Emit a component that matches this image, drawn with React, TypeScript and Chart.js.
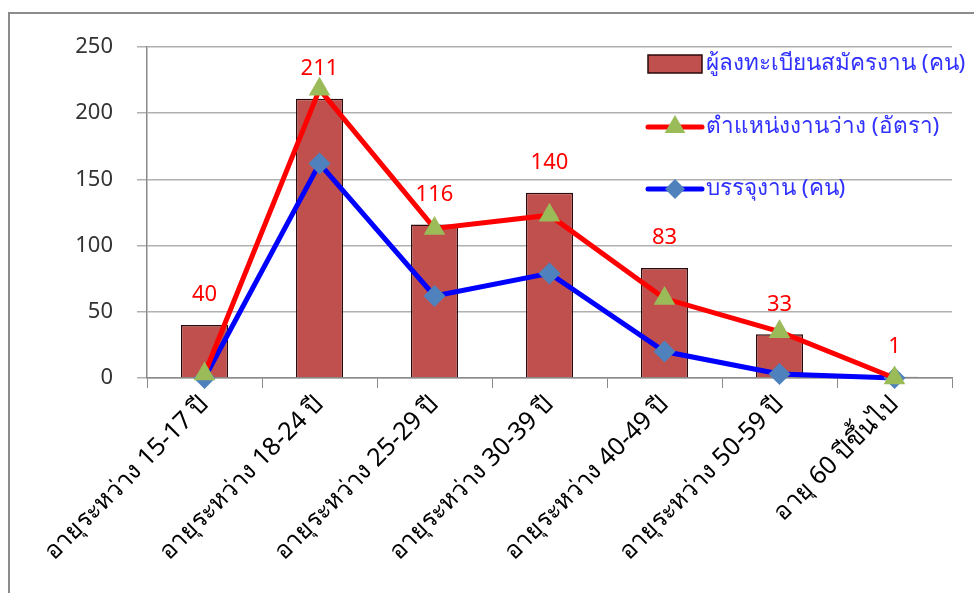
import React, { useEffect, useRef } from "react";
import { Chart, registerables } from "chart.js";

Chart.register(...registerables);

const categories = [
  "อายุระหว่าง 15-17 ปี",
  "อายุระหว่าง 18-24 ปี",
  "อายุระหว่าง 25-29 ปี",
  "อายุระหว่าง 30-39 ปี",
  "อายุระหว่าง 40-49 ปี",
  "อายุระหว่าง 50-59 ปี",
  "อายุ 60 ปีขึ้นไป",
];
const registrants = [40, 211, 116, 140, 83, 33, 1];
const vacancies = [3, 218, 113, 123, 60, 35, 0];
const placements = [0, 162, 62, 79, 20, 3, 0];
const seriesNames = [
  "ผู้ลงทะเบียนสมัครงาน (คน)",
  "ตำแหน่งงานว่าง (อัตรา)",
  "บรรจุงาน (คน)",
];
const yTicks = [0, 50, 100, 150, 200, 250];

const FONT = "'Noto Sans', 'DejaVu Sans', sans-serif";

const labelPlugin = {
  id: "barLabels",
  afterDatasetsDraw(chart: any) {
    const ctx = chart.ctx;
    const meta = chart.getDatasetMeta(0);
    ctx.save();
    ctx.fillStyle = "#ff0000";
    ctx.font = `22px ${FONT}`;
    ctx.textAlign = "center";
    ctx.textBaseline = "middle";
    meta.data.forEach((el: any, i: number) => {
      ctx.fillText(String(registrants[i]), el.x, el.y - 30);
    });
    ctx.restore();
  },
};

const legendPlugin = {
  id: "customLegend",
  afterDraw(chart: any) {
    const ctx = chart.ctx;
    const area = chart.chartArea;
    const x0 = area.right - 304;
    const sw = 54;
    const tops = [area.top + 17, area.top + 80, area.top + 142];
    ctx.save();
    ctx.fillStyle = "#c0504d";
    ctx.strokeStyle = "#2a0a0a";
    ctx.lineWidth = 1.5;
    ctx.fillRect(x0, tops[0] - 9, sw, 18);
    ctx.strokeRect(x0, tops[0] - 9, sw, 18);
    ctx.lineCap = "round";
    ctx.strokeStyle = "#ff0000";
    ctx.lineWidth = 5;
    ctx.beginPath();
    ctx.moveTo(x0, tops[1]);
    ctx.lineTo(x0 + sw, tops[1]);
    ctx.stroke();
    ctx.fillStyle = "#9bbb59";
    const r = 12;
    const cx = x0 + sw / 2;
    ctx.beginPath();
    ctx.moveTo(cx, tops[1] - r);
    ctx.lineTo(cx + r * 0.866, tops[1] + r * 0.5);
    ctx.lineTo(cx - r * 0.866, tops[1] + r * 0.5);
    ctx.closePath();
    ctx.fill();
    ctx.strokeStyle = "#0000ff";
    ctx.beginPath();
    ctx.moveTo(x0, tops[2]);
    ctx.lineTo(x0 + sw, tops[2]);
    ctx.stroke();
    ctx.fillStyle = "#4f81bd";
    const d = 10;
    ctx.beginPath();
    ctx.moveTo(cx, tops[2] - d);
    ctx.lineTo(cx + d, tops[2]);
    ctx.lineTo(cx, tops[2] + d);
    ctx.lineTo(cx - d, tops[2]);
    ctx.closePath();
    ctx.fill();
    ctx.fillStyle = "#3030ff";
    ctx.font = `22.5px ${FONT}`;
    ctx.textAlign = "left";
    ctx.textBaseline = "middle";
    seriesNames.forEach((n, i) => ctx.fillText(n, x0 + sw + 4, tops[i]));
    ctx.restore();
  },
};

export default function App() {
  const ref = useRef<HTMLCanvasElement>(null);
  useEffect(() => {
    if (!ref.current) return;
    const chart = new Chart(ref.current, {
      type: "bar",
      data: {
        labels: categories,
        datasets: [
          {
            type: "bar",
            label: seriesNames[0],
            data: registrants,
            backgroundColor: "#c0504d",
            borderColor: "#2a0a0a",
            borderWidth: 1.5,
            categoryPercentage: 1,
            barPercentage: 0.41,
            order: 3,
          },
          {
            type: "line",
            label: seriesNames[1],
            data: vacancies,
            borderColor: "#ff0000",
            borderWidth: 5,
            pointStyle: "triangle",
            pointRadius: 12.5,
            pointBackgroundColor: "#9bbb59",
            pointBorderColor: "#9bbb59",
            pointBorderWidth: 0,
            tension: 0,
            clip: false,
            order: 1,
          } as any,
          {
            type: "line",
            label: seriesNames[2],
            data: placements,
            borderColor: "#0000ff",
            borderWidth: 5,
            pointStyle: "rectRot",
            pointRadius: 11,
            pointBackgroundColor: "#4f81bd",
            pointBorderColor: "#4f81bd",
            pointBorderWidth: 0,
            tension: 0,
            clip: false,
            order: 2,
          } as any,
        ],
      },
      options: {
        animation: false,
        responsive: false,
        layout: { padding: { left: 0, right: 22, top: 47, bottom: 0 } },
        plugins: {
          legend: { display: false },
          tooltip: { enabled: false },
        },
        scales: {
          x: {
            grid: {
              offset: true,
              drawOnChartArea: false,
              drawTicks: true,
              tickLength: 10,
              color: "#8a8a8a",
            },
            border: { color: "#8a8a8a", width: 1.5 },
            ticks: {
              color: "#000000",
              font: { family: FONT, size: 25 },
              maxRotation: 45,
              minRotation: 45,
              padding: 2,
              autoSkip: false,
            },
            afterFit(scale: any) {
              scale.height = 215;
            },
          },
          y: {
            min: 0,
            max: 250,
            afterBuildTicks(scale: any) {
              scale.ticks = yTicks.map((v) => ({ value: v }));
            },
            grid: {
              color: "#b0b0b0",
              lineWidth: 1.5,
              tickLength: 10,
            },
            border: { color: "#8a8a8a", width: 1.5 },
            ticks: {
              color: "#333333",
              font: { family: FONT, size: 22 },
              padding: 24,
            },
            afterFit(scale: any) {
              scale.width = 147;
            },
          },
        },
      },
      plugins: [labelPlugin, legendPlugin],
    });
    return () => chart.destroy();
  }, []);
  return (
    <div style={{ position: "fixed", left: 0, top: 0, width: 974, height: 593, background: "#fff", overflow: "hidden" }}>
      <div
        style={{
          position: "absolute",
          left: 8,
          top: 12,
          width: 1000,
          height: 620,
          borderLeft: "2px solid #8c8c8c",
          borderTop: "2px solid #8c8c8c",
        }}
      />
      <canvas ref={ref} width={974} height={593} style={{ position: "absolute", left: 0, top: 0 }} />
    </div>
  );
}
